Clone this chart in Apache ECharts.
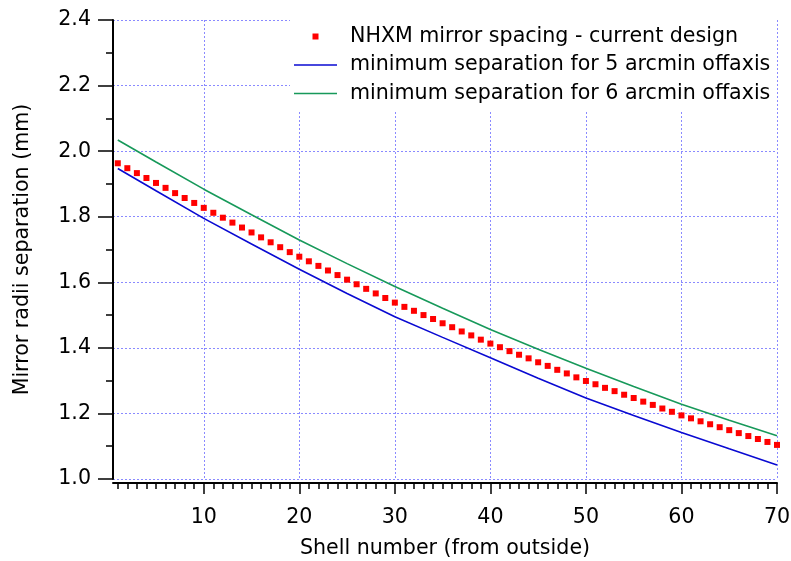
<!DOCTYPE html>
<html>
<head>
<meta charset="utf-8">
<script src="https://cdn.jsdelivr.net/npm/echarts@6/dist/echarts.min.js"></script>
<style>
html,body{margin:0;padding:0;background:#fff;}
#chart{width:791px;height:561px;}
</style>
</head>
<body>
<div id="chart"></div>
<script>
// Shell numbers and current-design spacing (red squares)
var shells = [];
for (var i = 1; i <= 70; i++) shells.push(i);
var spacingCurrent = [
  1.963,1.948,1.933,1.918,1.903,1.888,1.872,1.857,1.842,1.827,
  1.812,1.797,1.782,1.767,1.752,1.737,1.722,1.707,1.692,1.678,
  1.664,1.650,1.636,1.622,1.608,1.594,1.580,1.566,1.552,1.538,
  1.525,1.513,1.500,1.488,1.475,1.463,1.450,1.438,1.425,1.413,
  1.402,1.390,1.379,1.368,1.356,1.345,1.333,1.322,1.310,1.299,
  1.289,1.278,1.268,1.257,1.247,1.236,1.226,1.215,1.205,1.194,
  1.185,1.176,1.167,1.158,1.149,1.140,1.131,1.122,1.113,1.104
];
// Minimum separation curves (sampled shells)
var curveShells = [1,5,10,15,20,25,30,35,40,45,50,55,60,65,70];
var minSep5 = [1.947,1.879,1.795,1.717,1.640,1.566,1.495,1.432,1.370,1.307,1.247,1.194,1.142,1.092,1.043];
var minSep6 = [2.034,1.967,1.884,1.806,1.729,1.657,1.587,1.521,1.456,1.396,1.338,1.282,1.228,1.179,1.132];
var xMajorTicks = [10,20,30,40,50,60,70];
var seriesNames = [
  'NHXM mirror spacing - current design',
  'minimum separation for 5 arcmin offaxis',
  'minimum separation for 6 arcmin offaxis'
];

function pairs(xs, ys){ return xs.map(function(x,i){ return [x, ys[i]]; }); }

var FONT = 'DejaVu Sans';
var FS = 20.6;
var gridLine = { show:true, lineStyle:{ color:'#8a8aff', type:[2,2], width:1 } };
var squareIcon = 'path://M0,0L6,0L6,6L0,6Z';
var lineIcon = 'path://M0,0L43,0L43,1.6L0,1.6Z';

var chart = echarts.init(document.getElementById('chart'), null, {renderer:'canvas'});
chart.setOption({
  animation:false,
  backgroundColor:'#ffffff',
  textStyle:{ fontFamily:FONT },
  grid:{ left:113, right:14, top:20, bottom:82, containLabel:false, outerBoundsMode:'none' },
  legend:{
    orient:'vertical', left:290, top:18,
    padding:[8,6,8,4],
    backgroundColor:'#ffffff',
    itemWidth:43, itemHeight:6, itemGap:7.5,
    symbolKeepAspect:true,
    textStyle:{ fontFamily:FONT, fontSize:FS, color:'#000', lineHeight:20, padding:[0,0,0,8] },
    data:[
      { name:seriesNames[0], icon:squareIcon },
      { name:seriesNames[1], icon:lineIcon },
      { name:seriesNames[2], icon:lineIcon }
    ]
  },
  xAxis:[{
    type:'value', min:0.5, max:70, offset:4,
    name:'Shell number (from outside)', nameLocation:'middle', nameGap:55,
    nameTextStyle:{ fontFamily:FONT, fontSize:FS, color:'#000' },
    axisLine:{ show:true, onZero:false, lineStyle:{ color:'#000', width:2 } },
    axisTick:{ show:true, length:11, customValues:xMajorTicks, lineStyle:{ color:'#000', width:1.5 } },
    axisLabel:{ show:true, customValues:xMajorTicks, margin:24, fontFamily:FONT, fontSize:FS, color:'#000' },
    splitLine:gridLine
  },{
    type:'value', min:0.5, max:70, offset:4, position:'bottom',
    axisLine:{ show:false },
    axisTick:{ show:true, length:6, customValues:shells, lineStyle:{ color:'#000', width:1.5 } },
    axisLabel:{ show:false },
    splitLine:{ show:false }
  }],
  yAxis:{
    type:'value', min:1.0, max:2.4, interval:0.2,
    name:'Mirror radii separation (mm)', nameLocation:'middle', nameGap:80,
    nameTextStyle:{ fontFamily:FONT, fontSize:FS, color:'#000' },
    axisLine:{ show:true, onZero:false, lineStyle:{ color:'#000', width:2 } },
    axisTick:{ show:true, length:15, lineStyle:{ color:'#000', width:1.5 } },
    minorTick:{ show:true, splitNumber:2, length:7, lineStyle:{ color:'#000', width:1.5 } },
    axisLabel:{ margin:22, fontFamily:FONT, fontSize:FS, color:'#000',
      formatter:function(v){ return v.toFixed(1); } },
    splitLine:gridLine
  },
  series:[
    { name:seriesNames[0], type:'scatter', xAxisIndex:0, symbol:'rect', symbolSize:6,
      itemStyle:{ color:'#ff0000', opacity:1 }, z:3,
      data:pairs(shells, spacingCurrent) },
    { name:seriesNames[1], type:'line', xAxisIndex:0, symbol:'none', smooth:false,
      lineStyle:{ color:'#0a0ad2', width:1.6 }, itemStyle:{ color:'#0a0ad2' },
      data:pairs(curveShells, minSep5) },
    { name:seriesNames[2], type:'line', xAxisIndex:0, symbol:'none', smooth:false,
      lineStyle:{ color:'#17995a', width:1.6 }, itemStyle:{ color:'#17995a' },
      data:pairs(curveShells, minSep6) }
  ]
});
</script>
</body>
</html>
